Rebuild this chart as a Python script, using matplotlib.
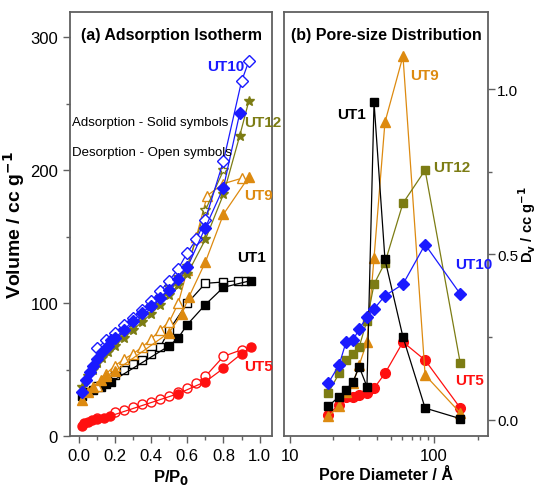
import matplotlib
matplotlib.use("Agg")
import matplotlib.pyplot as plt
from matplotlib.ticker import MultipleLocator, FixedLocator, NullFormatter, LogLocator

plt.rcParams['font.family'] = ['Liberation Sans', 'DejaVu Sans']

# ---- (a) adsorption / desorption isotherms ----
ut1_ads_p = [0.02, 0.05, 0.08, 0.12, 0.15, 0.18, 0.50, 0.55, 0.60, 0.70, 0.80, 0.95]
ut1_ads_v = [30, 33, 35, 37, 39, 41, 68, 74, 84, 99, 112, 117]
ut1_des_p = [0.92, 0.88, 0.80, 0.70, 0.60, 0.50, 0.45, 0.40, 0.35, 0.30, 0.25, 0.20, 0.15, 0.10]
ut1_des_v = [117, 117, 116, 115, 100, 80, 67, 62, 57, 54, 50, 46, 42, 38]

ut5_ads_p = [0.02, 0.03, 0.05, 0.07, 0.10, 0.14, 0.17, 0.55, 0.70, 0.80, 0.90, 0.95]
ut5_ads_v = [8, 10, 11, 12, 13, 14, 15, 32, 41, 51, 62, 67]
ut5_des_p = [0.90, 0.80, 0.70, 0.65, 0.60, 0.55, 0.50, 0.45, 0.40, 0.35, 0.30, 0.25, 0.20, 0.10]
ut5_des_v = [65, 60, 45, 40, 36, 33, 30, 28, 26, 24, 22, 20, 18, 14]

ut9_ads_p = [0.02, 0.05, 0.08, 0.12, 0.15, 0.20, 0.50, 0.57, 0.61, 0.70, 0.80, 0.94]
ut9_ads_v = [27, 33, 37, 42, 45, 49, 78, 92, 105, 131, 167, 195]
ut9_des_p = [0.90, 0.80, 0.71, 0.65, 0.60, 0.55, 0.50, 0.45, 0.40, 0.35, 0.30, 0.25, 0.20, 0.15, 0.10]
ut9_des_v = [194, 190, 181, 150, 125, 100, 86, 80, 73, 67, 62, 58, 53, 47, 38]

ut12_ads_p = [0.02, 0.05, 0.08, 0.10, 0.13, 0.16, 0.20, 0.25, 0.30, 0.35, 0.40, 0.45,
              0.50, 0.55, 0.60, 0.70, 0.80, 0.89, 0.94]
ut12_ads_v = [37, 45, 50, 55, 59, 63, 68, 74, 80, 86, 92, 99, 106, 114, 122, 148, 182, 226, 252]
ut12_des_p = [0.80, 0.70, 0.60, 0.55, 0.50, 0.45, 0.40, 0.35, 0.30, 0.25, 0.20, 0.15, 0.10]
ut12_des_v = [200, 170, 128, 120, 112, 105, 98, 91, 85, 79, 72, 64, 56]

ut10_ads_p = [0.02, 0.04, 0.06, 0.08, 0.10, 0.13, 0.16, 0.18, 0.20, 0.25, 0.30, 0.35,
              0.40, 0.45, 0.50, 0.55, 0.60, 0.70, 0.80, 0.89]
ut10_ads_v = [33, 42, 48, 53, 58, 63, 68, 72, 74, 80, 87, 93, 98, 104, 110, 118, 127, 157, 187, 243]
ut10_des_p = [0.94, 0.90, 0.80, 0.70, 0.65, 0.60, 0.55, 0.50, 0.45, 0.40, 0.35, 0.30,
              0.25, 0.20, 0.15, 0.10]
ut10_des_v = [282, 267, 207, 163, 148, 138, 126, 117, 109, 102, 95, 89, 84, 78, 72, 66]

# ---- (b) pore-size distribution ----
pore_d = [18.4, 21.9, 24.5, 27.4, 30.2, 34.2, 38.3, 45.6, 60.8, 86.6, 152]
psd_ut1 = [0.04, 0.07, 0.09, 0.115, 0.16, 0.10, 0.96, 0.485, 0.25, 0.035, 0.003]
psd_ut9 = [0.01, 0.04, 0.085, 0.11, 0.165, 0.235, 0.49, 0.90, 1.10, 0.135, 0.02]
psd_ut12 = [0.08, 0.14, 0.18, 0.20, 0.22, 0.30, 0.41, 0.475, 0.655, 0.755, 0.17]
psd_ut10 = [0.11, 0.165, 0.235, 0.24, 0.275, 0.31, 0.335, 0.375, 0.41, 0.53, 0.38]
psd_ut5 = [0.015, 0.045, 0.07, 0.07, 0.075, 0.08, 0.095, 0.14, 0.235, 0.18, 0.035]

C_BLACK = '#000000'
C_RED = '#ff1010'
C_ORANGE = '#dd8a10'
C_OLIVE = '#7c7c14'
C_BLUE = '#1a1aff'
SPINE = '#606060'

fig = plt.figure(figsize=(5.37, 4.89), dpi=100)
ax1 = fig.add_axes([0.130, 0.106, 0.377, 0.867])
ax2 = fig.add_axes([0.529, 0.106, 0.380, 0.867])

def iso(ax, ap, av, dp, dv, color, marker, ms):
    ax.plot(dp, dv, color=color, lw=0.9, marker=marker, ms=ms, mfc='white',
            mec=color, mew=1.0)
    ax.plot(ap, av, color=color, lw=0.9, marker=marker, ms=ms, mfc=color,
            mec=color, mew=1.0)

iso(ax1, ut5_ads_p, ut5_ads_v, ut5_des_p, ut5_des_v, C_RED, 'o', 6.5)
iso(ax1, ut1_ads_p, ut1_ads_v, ut1_des_p, ut1_des_v, C_BLACK, 's', 6)
iso(ax1, ut9_ads_p, ut9_ads_v, ut9_des_p, ut9_des_v, C_ORANGE, '^', 7)
iso(ax1, ut12_ads_p, ut12_ads_v, ut12_des_p, ut12_des_v, C_OLIVE, '*', 7.5)
iso(ax1, ut10_ads_p, ut10_ads_v, ut10_des_p, ut10_des_v, C_BLUE, 'D', 6)

ax1.set_xlim(-0.05, 1.07)
ax1.set_ylim(0, 319)
ax1.xaxis.set_major_locator(MultipleLocator(0.2))
ax1.xaxis.set_minor_locator(MultipleLocator(0.1))
ax1.yaxis.set_major_locator(MultipleLocator(100))
ax1.yaxis.set_minor_locator(MultipleLocator(50))
ax1.xaxis.set_major_formatter(plt.FuncFormatter(lambda v, p: f"{v:.1f}"))
ax1.tick_params(axis='both', which='both', direction='out', labelsize=12,
                color=SPINE, top=False, right=False)
ax1.tick_params(which='major', length=5, width=1.0)
ax1.tick_params(which='minor', length=3, width=1.0)
ax1.set_ylabel('Volume / cc g$^{\\mathbf{-1}}$', fontsize=14, fontweight='bold', labelpad=2)
ax1.set_xlabel('P/P$_\\mathbf{0}$', fontsize=12, fontweight='bold', labelpad=3)

ax1.text(0.5, 0.965, '(a) Adsorption Isotherm', transform=ax1.transAxes,
         ha='center', va='top', fontsize=11.5, fontweight='bold')
ax1.text(0.01, 0.741, 'Adsorption - Solid symbols', transform=ax1.transAxes,
         ha='left', va='center', fontsize=9.5)
ax1.text(0.01, 0.670, 'Desorption - Open symbols', transform=ax1.transAxes,
         ha='left', va='center', fontsize=9.5)
ax1.text(0.68, 0.873, 'UT10', transform=ax1.transAxes, color=C_BLUE,
         fontsize=11, fontweight='bold', va='center')
ax1.text(0.86, 0.741, 'UT12', transform=ax1.transAxes, color=C_OLIVE,
         fontsize=11, fontweight='bold', va='center', clip_on=False)
ax1.text(0.86, 0.568, 'UT9', transform=ax1.transAxes, color=C_ORANGE,
         fontsize=11, fontweight='bold', va='center')
ax1.text(0.825, 0.423, 'UT1', transform=ax1.transAxes, color=C_BLACK,
         fontsize=11, fontweight='bold', va='center')
ax1.text(0.86, 0.165, 'UT5', transform=ax1.transAxes, color=C_RED,
         fontsize=11, fontweight='bold', va='center')

# pore-size distribution
def psd(ax, y, color, marker, ms):
    ax.plot(pore_d, y, color=color, lw=0.9, marker=marker, ms=ms, mfc=color, mec=color)

psd(ax2, psd_ut5, C_RED, 'o', 7)
psd(ax2, psd_ut9, C_ORANGE, '^', 7)
psd(ax2, psd_ut12, C_OLIVE, 's', 6)
psd(ax2, psd_ut1, C_BLACK, 's', 6)
psd(ax2, psd_ut10, C_BLUE, 'D', 6.5)

ax2.set_xscale('log')
ax2.set_xlim(9.1, 237)
ax2.set_ylim(-0.05, 1.233)
ax2.xaxis.set_major_locator(FixedLocator([10, 100]))
ax2.xaxis.set_major_formatter(plt.FuncFormatter(lambda v, p: f"{v:g}"))
ax2.xaxis.set_minor_locator(LogLocator(base=10, subs=range(2, 10)))
ax2.xaxis.set_minor_formatter(NullFormatter())
ax2.yaxis.tick_right()
ax2.yaxis.set_label_position('right')
ax2.yaxis.set_major_locator(MultipleLocator(0.5))
ax2.yaxis.set_minor_locator(MultipleLocator(0.25))
ax2.tick_params(axis='x', which='both', direction='out', labelsize=12,
                color=SPINE, top=False)
ax2.tick_params(axis='y', which='both', direction='out', labelsize=11,
                color=SPINE, left=False, pad=1.5)
ax2.tick_params(which='major', length=5, width=1.0)
ax2.tick_params(which='minor', length=3, width=1.0)
ax2.set_ylabel('D$_\\mathbf{v}$ / cc g$^{\\mathbf{-1}}$', fontsize=10.5, fontweight='bold')
ax2.yaxis.set_label_coords(1.14, 0.5)
ax2.set_xlabel('Pore Diameter / Å', fontsize=11.5, fontweight='bold', labelpad=3)

ax2.text(0.5, 0.965, '(b) Pore-size Distribution', transform=ax2.transAxes,
         ha='center', va='top', fontsize=11.5, fontweight='bold')
ax2.text(0.26, 0.760, 'UT1', transform=ax2.transAxes, color=C_BLACK,
         fontsize=11, fontweight='bold', va='center')
ax2.text(0.62, 0.853, 'UT9', transform=ax2.transAxes, color=C_ORANGE,
         fontsize=11, fontweight='bold', va='center')
ax2.text(0.73, 0.635, 'UT12', transform=ax2.transAxes, color=C_OLIVE,
         fontsize=11, fontweight='bold', va='center')
ax2.text(0.84, 0.406, 'UT10', transform=ax2.transAxes, color=C_BLUE,
         fontsize=11, fontweight='bold', va='center')
ax2.text(0.84, 0.132, 'UT5', transform=ax2.transAxes, color=C_RED,
         fontsize=11, fontweight='bold', va='center')

for ax in (ax1, ax2):
    for s in ax.spines.values():
        s.set_color(SPINE)
        s.set_linewidth(1.3)

fig.savefig('out.png', dpi=100)
